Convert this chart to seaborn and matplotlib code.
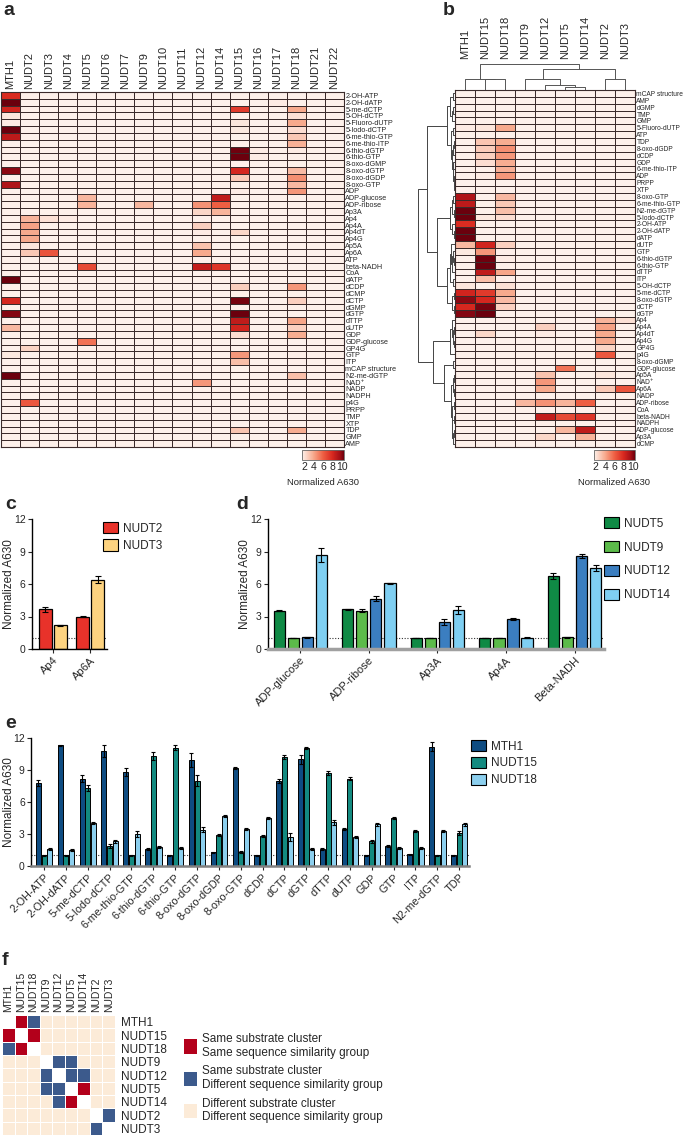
import numpy as np
import pandas as pd
import matplotlib
matplotlib.use("Agg")
import matplotlib.pyplot as plt
from matplotlib.colors import LinearSegmentedColormap, ListedColormap
from matplotlib.patches import Patch
import seaborn as sns

# ---------------- data: panel a ----------------
substrates = ["2-OH-ATP", "2-OH-dATP", "5-me-dCTP", "5-OH-dCTP", "5-Fluoro-dUTP", "5-Iodo-dCTP",
              "6-me-thio-GTP", "6-me-thio-ITP", "6-thio-dGTP", "6-thio-GTP", "8-oxo-dGMP", "8-oxo-dGTP",
              "8-oxo-dGDP", "8-oxo-GTP", "ADP", "ADP-glucose", "ADP-ribose", "Ap3A", "Ap4", "Ap4A",
              "Ap4dT", "Ap4G", "Ap5A", "Ap6A", "ATP", "beta-NADH", "CoA", "dATP", "dCDP", "dCMP",
              "dCTP", "dGMP", "dGTP", "dTTP", "dUTP", "GDP", "GDP-glucose", "GP4G", "GTP", "ITP",
              "mCAP structure", "N2-me-dGTP", "NAD⁺", "NADP", "NADPH", "p4G", "PRPP", "TMP", "XTP", "TDP",
              "GMP", "AMP"]
enzymes_a = ["MTH1", "NUDT2", "NUDT3", "NUDT4", "NUDT5", "NUDT6", "NUDT7", "NUDT9", "NUDT10",
             "NUDT11", "NUDT12", "NUDT14", "NUDT15", "NUDT16", "NUDT17", "NUDT18", "NUDT21", "NUDT22"]

MTH1 = [7.8, 11.3, 8.2, 2.0, 1.8, 10.8, 8.8, 1.4, 1.6, 1.0,
        1.3, 9.9, 1.3, 9.2, 1.5, 1.2, 1.2, 1.2, 1.2, 1.2,
        1.2, 1.2, 1.2, 1.4, 1.6, 1.2, 1.2, 11.0, 1.1, 1.3,
        8.0, 1.2, 10.0, 1.6, 3.5, 1.0, 1.2, 1.2, 1.9, 1.1,
        1.2, 11.2, 1.2, 1.2, 1.2, 1.2, 1.2, 1.2, 1.2, 1.2,
        1.2, 1.2]
NUDT2 = [1.2, 1.2, 1.2, 1.2, 1.2, 1.2, 1.2, 1.2, 1.2, 1.2,
         1.2, 1.2, 1.2, 1.2, 1.2, 1.2, 1.2, 1.2, 3.65, 4.2,
         4.0, 4.0, 2.0, 3.0, 1.2, 1.2, 1.2, 1.2, 1.2, 1.2,
         1.2, 1.2, 1.2, 1.2, 1.2, 1.2, 1.2, 2.6, 1.2, 1.2,
         1.2, 1.2, 1.2, 1.2, 1.2, 6.3, 1.2, 1.2, 1.2, 1.2,
         1.2, 1.2]
NUDT3 = [1.15, 1.15, 1.15, 1.15, 1.15, 1.15, 1.15, 1.15, 1.15, 1.15,
         1.15, 1.15, 1.15, 1.15, 1.15, 1.15, 1.15, 1.15, 2.2, 1.5,
         1.15, 1.15, 1.15, 6.4, 1.15, 1.15, 1.15, 1.15, 1.15, 1.15,
         1.15, 1.15, 1.15, 1.15, 1.15, 1.15, 1.15, 1.15, 1.15, 1.15,
         1.15, 1.15, 1.15, 1.15, 1.15, 1.15, 1.15, 1.15, 1.15, 1.15,
         1.15, 1.15]
NUDT4 = [1.15, 1.15, 1.15, 1.15, 1.15, 1.15, 1.15, 1.15, 1.15, 1.15,
         1.15, 1.15, 1.15, 1.15, 1.15, 1.15, 1.15, 1.15, 1.8, 1.15,
         1.15, 1.15, 1.15, 1.15, 1.15, 1.15, 1.15, 1.15, 1.15, 1.15,
         1.15, 1.15, 1.15, 1.15, 1.15, 1.15, 1.15, 1.15, 1.15, 1.15,
         1.15, 1.15, 1.15, 1.15, 1.15, 1.15, 1.15, 1.15, 1.15, 1.15,
         1.15, 1.15]
NUDT5 = [1.15, 1.15, 1.15, 1.15, 1.15, 1.15, 1.15, 1.15, 1.15, 1.15,
         1.15, 1.15, 1.15, 1.15, 1.15, 3.55, 3.65, 1.15, 1.15, 1.15,
         1.15, 1.15, 1.15, 1.15, 1.15, 6.75, 1.15, 1.15, 1.15, 1.15,
         1.15, 1.15, 1.15, 1.15, 1.15, 1.15, 5.5, 1.15, 1.15, 1.15,
         1.15, 1.15, 1.4, 1.15, 1.15, 1.15, 1.15, 1.15, 1.15, 1.15,
         1.15, 1.15]
NUDT6 = [1.15, 1.15, 1.15, 1.15, 1.15, 1.15, 1.15, 1.15, 1.15, 1.15,
         1.15, 1.15, 1.15, 1.15, 1.15, 1.15, 1.15, 1.15, 1.15, 1.15,
         1.15, 1.15, 1.15, 1.15, 1.15, 1.15, 1.15, 1.15, 1.15, 1.15,
         1.15, 1.15, 1.15, 1.15, 1.15, 1.15, 1.15, 1.15, 1.15, 1.15,
         1.15, 1.15, 1.15, 1.15, 1.15, 1.15, 1.15, 1.15, 1.15, 1.15,
         1.15, 1.15]
NUDT7 = [1.15, 1.15, 1.15, 1.15, 1.15, 1.15, 1.15, 1.15, 1.15, 1.15,
         1.15, 1.15, 1.15, 1.15, 1.15, 1.15, 1.3, 1.15, 1.15, 1.15,
         1.15, 1.15, 1.15, 1.15, 1.15, 1.15, 1.15, 1.15, 1.15, 1.15,
         1.15, 1.15, 1.15, 1.15, 1.15, 1.15, 1.15, 1.15, 1.15, 1.15,
         1.15, 1.15, 1.15, 1.15, 1.15, 1.15, 1.15, 1.15, 1.15, 1.15,
         1.15, 1.15]
NUDT9 = [1.15, 1.15, 1.15, 1.15, 1.15, 1.15, 1.15, 1.15, 1.15, 1.15,
         1.15, 1.15, 1.15, 1.15, 1.15, 1.0, 3.55, 1.0, 1.15, 1.0,
         1.15, 1.15, 1.15, 1.15, 1.15, 1.1, 1.15, 1.15, 1.15, 1.15,
         1.15, 1.15, 1.15, 1.15, 1.15, 1.15, 1.15, 1.15, 1.15, 1.15,
         1.15, 1.15, 1.15, 1.15, 1.15, 1.15, 1.15, 1.15, 1.15, 1.15,
         1.15, 1.15]
NUDT10 = [1.15, 1.15, 1.15, 1.15, 1.15, 1.15, 1.15, 1.15, 1.15, 1.15,
          1.15, 1.15, 1.15, 1.15, 1.15, 1.15, 1.15, 1.15, 1.15, 1.15,
          1.15, 1.15, 1.15, 1.15, 1.15, 1.15, 1.15, 1.15, 1.15, 1.15,
          1.15, 1.15, 1.15, 1.15, 1.15, 1.15, 1.15, 1.15, 1.15, 1.15,
          1.15, 1.15, 1.15, 1.15, 1.15, 1.15, 1.15, 1.15, 1.15, 1.15,
          1.15, 1.15]
NUDT11 = [1.15, 1.15, 1.15, 1.15, 1.15, 1.15, 1.15, 1.15, 1.15, 1.15,
          1.15, 1.15, 1.15, 1.15, 1.15, 1.15, 1.15, 1.15, 1.15, 1.15,
          1.15, 1.15, 1.15, 1.15, 1.15, 1.15, 1.15, 1.15, 1.15, 1.15,
          1.15, 1.15, 1.15, 1.15, 1.15, 1.15, 1.15, 1.15, 1.15, 1.15,
          1.15, 1.15, 1.15, 1.15, 1.15, 1.15, 1.15, 1.15, 1.15, 1.15,
          1.15, 1.15]
NUDT12 = [1.2, 1.2, 1.2, 1.2, 1.2, 1.2, 1.2, 1.2, 1.2, 1.2,
          1.2, 1.2, 1.2, 1.2, 1.2, 1.1, 4.65, 2.5, 1.5, 2.75,
          1.8, 1.5, 3.2, 4.0, 1.2, 8.6, 1.5, 1.2, 1.2, 1.2,
          1.2, 1.2, 1.2, 1.2, 1.2, 1.2, 1.2, 1.2, 1.2, 1.2,
          1.2, 1.2, 4.5, 1.5, 1.7, 1.2, 1.2, 1.2, 1.2, 1.2,
          1.2, 1.2]
NUDT14 = [1.15, 1.15, 1.15, 1.15, 1.15, 1.15, 1.15, 1.15, 1.15, 1.15,
          1.15, 1.15, 1.15, 1.15, 1.15, 8.7, 6.05, 3.6, 1.15, 1.05,
          1.15, 1.15, 1.15, 1.15, 1.15, 7.5, 1.15, 1.15, 1.15, 1.15,
          1.15, 1.15, 1.15, 1.15, 1.15, 1.15, 1.15, 1.15, 1.15, 1.15,
          1.15, 1.15, 1.15, 1.15, 1.15, 1.15, 1.15, 1.15, 1.15, 1.15,
          1.15, 1.15]
NUDT15 = [1.2, 1.0, 7.3, 1.6, 2.0, 1.9, 1.0, 1.6, 10.3, 11.1,
          1.0, 8.0, 2.9, 1.3, 1.8, 1.2, 1.2, 1.2, 1.2, 1.2,
          2.5, 1.2, 1.2, 1.2, 1.2, 1.2, 1.2, 1.2, 2.8, 1.2,
          10.2, 1.2, 11.1, 8.7, 8.2, 2.3, 1.2, 1.2, 4.5, 3.3,
          1.2, 1.0, 1.2, 1.2, 1.2, 1.2, 1.2, 1.2, 1.2, 3.1,
          1.2, 1.2]
NUDT16 = [1.15, 1.15, 1.15, 1.15, 1.15, 1.15, 1.15, 1.15, 1.8, 1.8,
          1.15, 1.15, 1.15, 1.15, 1.15, 1.15, 1.15, 1.15, 1.15, 1.15,
          1.15, 1.15, 1.15, 1.15, 1.15, 1.15, 1.15, 1.15, 1.15, 1.15,
          1.15, 1.15, 1.6, 1.15, 1.15, 1.15, 1.15, 1.15, 1.15, 1.15,
          1.15, 1.15, 1.15, 1.15, 1.15, 1.15, 1.15, 1.15, 1.15, 1.15,
          1.15, 1.15]
NUDT17 = [1.15, 1.8, 1.15, 1.15, 1.15, 1.15, 1.15, 1.15, 1.15, 1.15,
          1.15, 1.5, 1.15, 1.15, 1.15, 1.15, 1.15, 1.15, 1.15, 1.15,
          1.15, 1.15, 1.15, 1.15, 1.15, 1.15, 1.15, 1.15, 1.15, 1.15,
          1.15, 1.15, 1.15, 1.15, 1.15, 1.15, 1.15, 1.15, 1.15, 1.15,
          1.15, 1.15, 1.15, 1.15, 1.15, 1.15, 1.15, 1.15, 1.15, 1.15,
          1.15, 1.15]
NUDT18 = [1.6, 1.5, 4.0, 2.2, 4.0, 2.3, 3.0, 3.8, 1.8, 1.7,
          1.5, 3.4, 4.7, 3.5, 4.5, 1.3, 1.3, 1.3, 1.3, 1.3,
          1.3, 1.3, 1.3, 1.3, 1.6, 1.3, 1.3, 1.3, 4.5, 1.3,
          2.7, 1.3, 1.6, 4.1, 2.7, 3.9, 1.3, 1.3, 1.7, 1.7,
          1.3, 3.3, 1.3, 1.3, 1.3, 1.3, 1.6, 1.3, 1.4, 3.9,
          1.3, 1.3]
NUDT21 = [1.15, 1.15, 1.15, 1.15, 1.15, 1.15, 1.15, 1.15, 1.15, 1.15,
          1.15, 1.15, 1.15, 1.15, 1.15, 1.15, 1.15, 1.15, 1.15, 1.15,
          1.15, 1.15, 1.15, 1.15, 1.15, 1.15, 1.15, 1.15, 1.15, 1.15,
          1.15, 1.15, 1.15, 1.15, 1.15, 1.15, 1.15, 1.15, 1.15, 1.15,
          1.15, 1.15, 1.15, 1.15, 1.15, 1.15, 1.15, 1.15, 1.15, 1.15,
          1.15, 1.15]
NUDT22 = [1.15, 1.15, 1.15, 1.15, 1.15, 1.15, 1.15, 1.15, 1.15, 1.15,
          1.15, 1.15, 1.15, 1.15, 1.15, 1.15, 1.15, 1.15, 1.15, 1.15,
          1.15, 1.15, 1.15, 1.15, 1.15, 1.15, 1.15, 1.15, 1.15, 1.15,
          1.15, 1.15, 1.15, 1.15, 1.15, 1.15, 1.15, 1.15, 1.15, 1.15,
          1.15, 1.15, 1.15, 1.15, 1.15, 1.15, 1.15, 1.15, 1.15, 1.15,
          1.15, 1.15]

# ---------------- data: panel b (clustered subset) ----------------
b_cols = ["MTH1", "NUDT15", "NUDT18", "NUDT9", "NUDT12", "NUDT5", "NUDT14", "NUDT2", "NUDT3"]
b_rows = ["mCAP structure", "AMP", "dGMP", "TMP", "GMP", "5-Fluoro-dUTP", "ATP", "TDP", "8-oxo-dGDP",
          "dCDP", "GDP", "6-me-thio-ITP", "ADP", "PRPP", "XTP", "8-oxo-GTP", "6-me-thio-GTP",
          "N2-me-dGTP", "5-Iodo-dCTP", "2-OH-ATP", "2-OH-dATP", "dATP", "dUTP", "GTP", "6-thio-dGTP",
          "6-thio-GTP", "dTTP", "ITP", "5-OH-dCTP", "5-me-dCTP", "8-oxo-dGTP", "dCTP", "dGTP", "Ap4",
          "Ap4A", "Ap4dT", "Ap4G", "GP4G", "p4G", "8-oxo-dGMP", "GDP-glucose", "Ap5A", "NAD⁺", "Ap6A",
          "NADP", "ADP-ribose", "CoA", "beta-NADH", "NADPH", "ADP-glucose", "Ap3A", "dCMP"]
# dendrogram trees: (left, right, height)
col_tree = (("MTH1", ("NUDT15", "NUDT18", 0.41), 0.43),
            (("NUDT9", ("NUDT12", ("NUDT5", "NUDT14", 0.12), 0.21), 0.43), ("NUDT2", "NUDT3", 0.43), 0.82),
            1.0)
tree_A1 = (("mCAP structure", "AMP", 0.06), (("dGMP", "TMP", 0.05), "GMP", 0.08), 0.14)
tree_A2 = (("5-Fluoro-dUTP", "ATP", 0.05),
           ((("TDP", "8-oxo-dGDP", 0.03), "dCDP", 0.05),
            ("GDP", ("6-me-thio-ITP", ("ADP", ("PRPP", "XTP", 0.02), 0.04), 0.05), 0.06), 0.08), 0.1)
tree_B = ((("8-oxo-GTP", "6-me-thio-GTP", 0.05), ("N2-me-dGTP", "5-Iodo-dCTP", 0.04), 0.08),
          ("2-OH-ATP", ("2-OH-dATP", "dATP", 0.04), 0.07), 0.13)
tree_C1 = (("dUTP", (("GTP", ("6-thio-dGTP", "6-thio-GTP", 0.03), 0.06), "dTTP", 0.08), 0.1),
           ("ITP", "5-OH-dCTP", 0.05), 0.14)
tree_C2 = (("5-me-dCTP", "8-oxo-dGTP", 0.04), ("dCTP", "dGTP", 0.03), 0.07)
tree_D = (("Ap4", (("Ap4A", "Ap4dT", 0.03), ("Ap4G", "GP4G", 0.03), 0.05), 0.08), "p4G", 0.13)
tree_E1 = ("8-oxo-dGMP", "GDP-glucose", 0.05)
tree_E2 = ((("Ap5A", "NAD⁺", 0.03), ("Ap6A", "NADP", 0.04), 0.06),
           (("ADP-ribose", "CoA", 0.04), (("beta-NADH", "NADPH", 0.04),
                                          (("ADP-glucose", "Ap3A", 0.03), "dCMP", 0.05), 0.07), 0.09), 0.12)
row_tree = (((tree_A1, tree_A2, 0.22), (tree_B, (tree_C1, tree_C2, 0.22), 0.5), 0.75),
            (tree_D, (tree_E1, tree_E2, 0.3), 0.6), 1.0)

# ---------------- data: panels c, d, e ----------------
c_substrates = ["Ap4", "Ap6A"]
c_enzymes = ["NUDT2", "NUDT3"]
c_NUDT2 = [3.65, 3.0]
c_NUDT3 = [2.2, 6.4]
c_NUDT2_err = [0.25, 0.08]
c_NUDT3_err = [0.05, 0.3]
c_colors = ["#e8322a", "#fdd380"]

d_substrates = ["ADP-glucose", "ADP-ribose", "Ap3A", "Ap4A", "Beta-NADH"]
d_enzymes = ["NUDT5", "NUDT9", "NUDT12", "NUDT14"]
d_NUDT5 = [3.55, 3.65, 1.0, 1.0, 6.75]
d_NUDT9 = [1.0, 3.55, 1.0, 1.0, 1.1]
d_NUDT12 = [1.1, 4.65, 2.5, 2.75, 8.6]
d_NUDT14 = [8.7, 6.05, 3.6, 1.05, 7.5]
d_NUDT5_err = [0.05, 0.04, 0.02, 0.02, 0.25]
d_NUDT9_err = [0.02, 0.1, 0.03, 0.02, 0.04]
d_NUDT12_err = [0.05, 0.25, 0.25, 0.08, 0.2]
d_NUDT14_err = [0.65, 0.06, 0.35, 0.02, 0.3]
d_colors = ["#0f8a45", "#5cbb4a", "#3b7ec0", "#7fcff2"]

e_substrates = ["2-OH-ATP", "2-OH-dATP", "5-me-dCTP", "5-Iodo-dCTP", "6-me-thio-GTP", "6-thio-dGTP",
                "6-thio-GTP", "8-oxo-dGTP", "8-oxo-dGDP", "8-oxo-GTP", "dCDP", "dCTP", "dGTP", "dTTP",
                "dUTP", "GDP", "GTP", "ITP", "N2-me-dGTP", "TDP"]
e_enzymes = ["MTH1", "NUDT15", "NUDT18"]
e_MTH1 = [7.8, 11.3, 8.2, 10.8, 8.8, 1.6, 1.0, 9.9, 1.3, 9.2, 1.0, 8.0, 10.0, 1.6, 3.5, 1.0, 1.9, 1.1, 11.2, 1.0]
e_NUDT15 = [1.0, 1.0, 7.3, 1.9, 1.0, 10.3, 11.1, 8.0, 2.9, 1.3, 2.8, 10.2, 11.1, 8.7, 8.2, 2.3, 4.5, 3.3, 1.0, 3.1]
e_NUDT18 = [1.6, 1.5, 4.0, 2.3, 3.0, 1.8, 1.7, 3.4, 4.7, 3.5, 4.5, 2.7, 1.6, 4.1, 2.7, 3.9, 1.7, 1.7, 3.3, 3.9]
e_MTH1_err = [0.3, 0.08, 0.3, 0.55, 0.35, 0.08, 0.05, 0.65, 0.05, 0.12, 0.05, 0.2, 0.45, 0.1, 0.1, 0.05, 0.1, 0.05, 0.4, 0.05]
e_NUDT15_err = [0.05, 0.05, 0.3, 0.2, 0.05, 0.35, 0.2, 0.5, 0.1, 0.1, 0.1, 0.2, 0.1, 0.2, 0.15, 0.1, 0.05, 0.1, 0.05, 0.2]
e_NUDT18_err = [0.1, 0.08, 0.1, 0.1, 0.25, 0.1, 0.08, 0.25, 0.1, 0.1, 0.1, 0.35, 0.1, 0.25, 0.1, 0.15, 0.1, 0.1, 0.1, 0.15]
e_colors = ["#0e4c82", "#138a80", "#8ccfee"]

# ---------------- data: panel f ----------------
f_names = ["MTH1", "NUDT15", "NUDT18", "NUDT9", "NUDT12", "NUDT5", "NUDT14", "NUDT2", "NUDT3"]
# 0 = different cluster, 1 = same cluster & same similarity group, 2 = same cluster, different group
f_matrix = [[np.nan, 1, 2, 0, 0, 0, 0, 0, 0],
            [1, np.nan, 1, 0, 0, 0, 0, 0, 0],
            [2, 1, np.nan, 0, 0, 0, 0, 0, 0],
            [0, 0, 0, np.nan, 2, 2, 0, 0, 0],
            [0, 0, 0, 2, np.nan, 2, 2, 0, 0],
            [0, 0, 0, 2, 2, np.nan, 1, 0, 0],
            [0, 0, 0, 0, 2, 1, np.nan, 0, 0],
            [0, 0, 0, 0, 0, 0, 0, np.nan, 2],
            [0, 0, 0, 0, 0, 0, 0, 2, np.nan]]
f_colors = ["#fcebd8", "#b3001b", "#3c5a8c"]
f_legend = ["Same substrate cluster\nSame sequence similarity group",
            "Same substrate cluster\nDifferent sequence similarity group",
            "Different substrate cluster\nDifferent sequence similarity group"]

# ---------------- style ----------------
sns.set_style("white")
plt.rcParams["font.family"] = ["Liberation Sans", "DejaVu Sans"]
plt.rcParams["axes.linewidth"] = 1.0

W, H = 685, 1135
fig = plt.figure(figsize=(W / 100, H / 100), dpi=100)


def px_axes(l, t, w, h):
    return fig.add_axes([l / W, 1 - (t + h) / H, w / W, h / H])


VMIN, VMAX = 1.6, 10.4
heat_cmap = LinearSegmentedColormap.from_list(
    "a630", [(0.0, "#fdf0ea"), (0.06, "#fce2d7"), (0.28, "#f7a78a"), (0.5, "#ef5f43"),
             (0.72, "#d8281f"), (0.9, "#a50f16"), (1.0, "#6b000d")])
GRID = "#3b2b2b"

df_a = pd.DataFrame({"MTH1": MTH1, "NUDT2": NUDT2, "NUDT3": NUDT3, "NUDT4": NUDT4, "NUDT5": NUDT5,
                     "NUDT6": NUDT6, "NUDT7": NUDT7, "NUDT9": NUDT9, "NUDT10": NUDT10, "NUDT11": NUDT11,
                     "NUDT12": NUDT12, "NUDT14": NUDT14, "NUDT15": NUDT15, "NUDT16": NUDT16,
                     "NUDT17": NUDT17, "NUDT18": NUDT18, "NUDT21": NUDT21, "NUDT22": NUDT22},
                    index=substrates)[enzymes_a]


def heat(ax, cax, df, row_fs, col_pad):
    sns.heatmap(df, ax=ax, cmap=heat_cmap, vmin=VMIN, vmax=VMAX, linewidths=0.55, linecolor=GRID,
                cbar=True, cbar_ax=cax, cbar_kws={"orientation": "horizontal", "ticks": [2, 4, 6, 8, 10]},
                xticklabels=True, yticklabels=True)
    ax.set_xlabel("")
    ax.set_ylabel("")
    ax.xaxis.tick_top()
    ax.tick_params(axis="x", length=0, labelsize=8, pad=col_pad, top=True, bottom=False,
                   labeltop=True, labelbottom=False)
    plt.setp(ax.get_xticklabels(), rotation=90)
    ax.yaxis.tick_right()
    ax.tick_params(axis="y", length=0, labelsize=row_fs, pad=1.0, right=True, left=False,
                   labelright=True, labelleft=False)
    plt.setp(ax.get_yticklabels(), rotation=0)
    for sp in ax.spines.values():
        sp.set_visible(True)
        sp.set_color(GRID)
        sp.set_linewidth(0.8)
    cbar = ax.collections[0].colorbar
    cbar.outline.set_edgecolor("#666666")
    cbar.outline.set_linewidth(0.6)
    cax.tick_params(length=0, labelsize=7.5, pad=1.5)
    cax.set_xlabel("Normalized A630", fontsize=6.8, labelpad=4)


# ---------------- panel a ----------------
ax_a = px_axes(1, 92, 343, 355)
cax_a = px_axes(302, 450, 42, 10)
heat(ax_a, cax_a, df_a, 5.2, 2)

# ---------------- panel b ----------------
df_b = df_a.loc[b_rows, b_cols]
ax_b = px_axes(455, 90, 180, 357)
cax_b = px_axes(594, 450, 41, 10)
heat(ax_b, cax_b, df_b, 4.8, 22)


def draw_tree(ax, node, pos, orient, color="#4a4a4a"):
    if isinstance(node, str):
        return pos[node], 0.0
    left, right, h = node
    xl, hl = draw_tree(ax, left, pos, orient, color)
    xr, hr = draw_tree(ax, right, pos, orient, color)
    xs = [xl, xl, xr, xr]
    hs = [hl, h, h, hr]
    if orient == "top":
        ax.plot(xs, hs, color=color, lw=0.7, solid_capstyle="butt")
    else:
        ax.plot(hs, xs, color=color, lw=0.7, solid_capstyle="butt")
    return (xl + xr) / 2, h


ax_cd = px_axes(455, 62, 180, 28)
draw_tree(ax_cd, col_tree, {n: i + 0.5 for i, n in enumerate(b_cols)}, "top", "#555555")
ax_cd.set_xlim(0, len(b_cols))
ax_cd.set_ylim(0, 1.08)
ax_cd.axis("off")

ax_rd = px_axes(417, 90, 38, 357)
draw_tree(ax_rd, row_tree, {n: i + 0.5 for i, n in enumerate(b_rows)}, "left", "#444444")
ax_rd.set_xlim(1.03, 0)
ax_rd.set_ylim(len(b_rows), 0)
ax_rd.axis("off")


# ---------------- bar panels ----------------
def bar_panel(ax, cats, names, vals, errs, colors, xlim, width, gap, bottom_color, bottom_lw, edge_lw,
              xfs, cap, ylab_x):
    rows = []
    for name, v in zip(names, vals):
        for c, y in zip(cats, v):
            rows.append({"substrate": c, "enzyme": name, "value": y})
    df = pd.DataFrame(rows)
    sns.barplot(data=df, x="substrate", y="value", hue="enzyme", order=cats, hue_order=names,
                palette=colors, saturation=1, edgecolor="black", linewidth=edge_lw, width=width, gap=gap,
                errorbar=None, legend=False, ax=ax, zorder=2)
    for cont, err in zip(ax.containers, errs):
        for bar, e in zip(cont, err):
            x = bar.get_x() + bar.get_width() / 2
            ax.errorbar(x, bar.get_height(), yerr=e, fmt="none", ecolor="black", elinewidth=0.8,
                        capsize=cap, capthick=0.8, zorder=3)
    ax.axhline(1, ls=(0, (1, 1.5)), color="#333333", lw=0.8, zorder=1)
    ax.set_xlim(*xlim)
    ax.set_ylim(0, 12)
    ax.set_yticks([0, 3, 6, 9, 12])
    ax.set_xlabel("")
    ax.set_ylabel("Normalized A630", fontsize=8.5)
    # right edge of the rotated label, in pixels from the figure's left edge
    bb = ax.get_position()
    ax.yaxis.set_label_coords((ylab_x / W - bb.x0) / bb.width, 0.5)
    sns.despine(ax=ax)
    ax.spines["left"].set_color("black")
    ax.spines["left"].set_linewidth(1.0)
    ax.spines["bottom"].set_color(bottom_color)
    ax.spines["bottom"].set_linewidth(bottom_lw)
    ax.tick_params(axis="y", length=3, width=0.8, labelsize=7.5, pad=1.5, left=True)
    ax.tick_params(axis="x", length=3, width=0.8, labelsize=xfs, pad=1.5, bottom=True)
    plt.setp(ax.get_xticklabels(), rotation=45, ha="right", rotation_mode="anchor")


def legend_at(handles, labels, x, y, spacing, fs=8.5, hh=1.1, hl=1.3):
    fig.legend(handles, labels, loc="upper left", bbox_to_anchor=(x / W, 1 - y / H),
               bbox_transform=fig.transFigure, frameon=False, fontsize=fs, handlelength=hl,
               handleheight=hh, labelspacing=spacing, borderpad=0, borderaxespad=0, handletextpad=0.4)


ax_c = px_axes(32, 519, 75, 130)
bar_panel(ax_c, c_substrates, c_enzymes, [c_NUDT2, c_NUDT3], [c_NUDT2_err, c_NUDT3_err], c_colors,
          (-0.55, 1.45), 0.8, 0.15, "black", 1.0, 0.9, 8, 2.5, 15)
legend_at([Patch(facecolor=c, edgecolor="black", linewidth=0.8) for c in c_colors], c_enzymes,
          103, 522, 0.4)

ax_d = px_axes(268, 519, 336, 130)
bar_panel(ax_d, d_substrates, d_enzymes, [d_NUDT5, d_NUDT9, d_NUDT12, d_NUDT14],
          [d_NUDT5_err, d_NUDT9_err, d_NUDT12_err, d_NUDT14_err], d_colors,
          (-0.47, 4.43), 0.82, 0.2, "#a0a0a0", 2.5, 0.9, 8, 2.5, 251)
legend_at([Patch(facecolor=c, edgecolor="black", linewidth=0.8) for c in d_colors], d_enzymes,
          604, 517, 0.95)

ax_e = px_axes(31, 738, 438, 128)
bar_panel(ax_e, e_substrates, e_enzymes, [e_MTH1, e_NUDT15, e_NUDT18],
          [e_MTH1_err, e_NUDT15_err, e_NUDT18_err], e_colors,
          (-0.6, 19.45), 0.78, 0.12, "#808080", 1.8, 0.7, 7.8, 1.5, 15)
legend_at([Patch(facecolor=c, edgecolor="black", linewidth=0.8) for c in e_colors], e_enzymes,
          471, 740, 0.35)

# ---------------- panel f ----------------
df_f = pd.DataFrame(f_matrix, index=f_names, columns=f_names)
ax_f = px_axes(2, 1015, 113, 120)
sns.heatmap(df_f, ax=ax_f, cmap=ListedColormap(f_colors), vmin=-0.5, vmax=2.5, linewidths=0.6,
            linecolor="white", cbar=False, xticklabels=True, yticklabels=True, square=False)
ax_f.set_xlabel("")
ax_f.set_ylabel("")
ax_f.xaxis.tick_top()
ax_f.tick_params(axis="x", length=0, labelsize=7.5, pad=2, top=True, bottom=False,
                 labeltop=True, labelbottom=False)
plt.setp(ax_f.get_xticklabels(), rotation=90)
ax_f.yaxis.tick_right()
ax_f.tick_params(axis="y", length=0, labelsize=8.5, pad=4, right=True, left=False,
                 labelright=True, labelleft=False)
plt.setp(ax_f.get_yticklabels(), rotation=0)
legend_at([Patch(facecolor=c, edgecolor="none") for c in [f_colors[1], f_colors[2], f_colors[0]]],
          f_legend, 184, 1033, 0.55, fs=8.5, hh=1.5, hl=1.1)

# ---------------- panel letters ----------------
for letter, x, y in [("a", 3, 2), ("b", 443, 2), ("c", 5, 496), ("d", 236, 496), ("e", 5, 715),
                     ("f", 2, 952)]:
    fig.text(x / W, 1 - y / H, letter, fontsize=14, fontweight="bold", va="top", ha="left")

fig.savefig("out.png", dpi=100)
